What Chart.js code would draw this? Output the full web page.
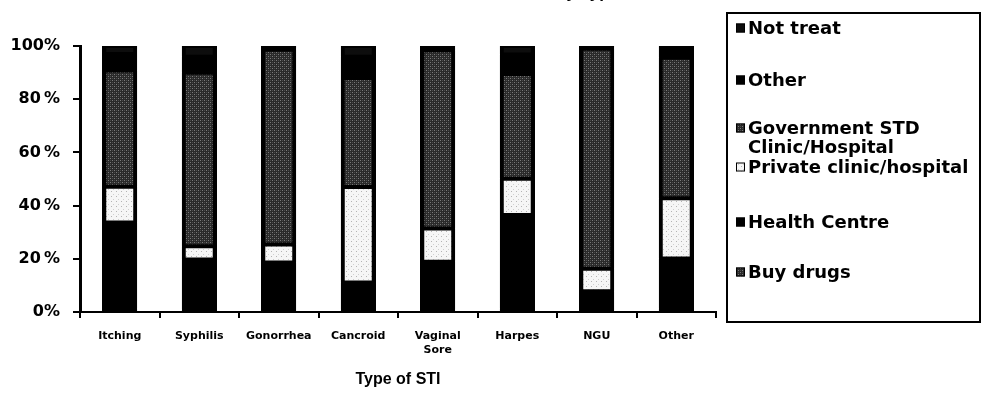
<!DOCTYPE html>
<html>
<head>
<meta charset="utf-8">
<title>Source of treatment by type of STI</title>
<script src="https://cdn.jsdelivr.net/npm/chart.js@4/dist/chart.umd.min.js"></script>
<style>
  html, body { margin: 0; padding: 0; background: #fff; }
  #wrap { width: 981px; height: 397px; overflow: hidden; }
  canvas { display: block; }
</style>
</head>
<body>
<div id="wrap"><canvas id="chart" width="981" height="397"></canvas></div>
<script>
// Categories (type of STI) along the x axis
const categories = ['Itching', 'Syphilis', 'Gonorrhea', 'Cancroid', ['Vaginal', 'Sore'], 'Harpes', 'NGU', 'Other'];

// Share of cases (%) by place of treatment, stacked bottom to top
const buyDrugs      = [1.2, 0.9, 1.1, 0.8, 1.0, 1.4, 0.6, 1.2];
const healthCentre  = [32.4, 18.8, 17.5, 10.3, 17.9, 35.1, 7.2, 18.9];
const privateClinic = [13.5, 5.0, 6.8, 35.9, 12.5, 13.6, 8.5, 22.7];
const govtClinic    = [43.7, 65.2, 73.2, 41.0, 67.0, 39.4, 82.7, 52.8];
const otherPlace    = [6.2, 6.1, 0.6, 8.0, 0.9, 7.3, 0.5, 2.9];
const notTreat      = [3.0, 4.0, 0.8, 4.0, 0.7, 3.2, 0.5, 1.5];

const seriesNames = ['Buy drugs', 'Health Centre', 'Private clinic/hospital',
                     'Government STD\nClinic/Hospital', 'Other', 'Not treat'];
const yTickLabels = ['0%', '20\u2009%', '40\u2009%', '60\u2009%', '80\u2009%', '100%'];
const chartTitle = 'Source of Treatment of STI by Type of STI';
const xAxisTitle = 'Type of STI';

// Halftone-like fills
function makePattern(size, base, dots) {
  const c = document.createElement('canvas');
  c.width = size; c.height = size;
  const g = c.getContext('2d');
  g.fillStyle = base;
  g.fillRect(0, 0, size, size);
  dots.forEach(([x, y, col]) => { g.fillStyle = col; g.fillRect(x, y, 1, 1); });
  return g.createPattern(c, 'repeat');
}
const darkDots = makePattern(4, '#2a2a2a', [[0, 0, '#7a7a7a'], [2, 2, '#7a7a7a'], [2, 0, '#4a4a4a'], [0, 2, '#4a4a4a']]);
const lightDots = makePattern(5, '#f6f6f6', [[1, 1, '#b4b4b4'], [3, 4, '#d0d0d0']]);

const fills = [darkDots, '#000000', lightDots, darkDots, '#000000', '#0d0d0d'];
const values = [buyDrugs, healthCentre, privateClinic, govtClinic, otherPlace, notTreat];

const datasets = values.map((data, i) => ({
  label: seriesNames[i],
  data: data,
  backgroundColor: fills[i],
  borderColor: '#000000',
  borderWidth: { top: 2, bottom: 2, left: 4, right: 4 },
  borderSkipped: false,
  barPercentage: 0.44,
  categoryPercentage: 1.0
}));

// Solid black column under each stack so segment seams stay dark
const stackBacking = {
  id: 'stackBacking',
  beforeDatasetsDraw(chart) {
    const first = chart.getDatasetMeta(0).data;
    const last = chart.getDatasetMeta(chart.data.datasets.length - 1).data;
    const ctx = chart.ctx;
    ctx.save();
    ctx.fillStyle = '#000';
    first.forEach((bar, i) => {
      const top = last[i].y;
      const bottom = bar.base;
      ctx.fillRect(Math.round(bar.x - bar.width / 2), Math.round(top), Math.round(bar.width), Math.round(bottom - top));
    });
    ctx.restore();
  }
};

// Title drawn high so only its lower edge sits inside the frame
const titlePlugin = {
  id: 'topTitle',
  afterDraw(chart) {
    const ctx = chart.ctx;
    ctx.save();
    ctx.font = 'bold 17px "Liberation Sans", Arial, sans-serif';
    ctx.fillStyle = '#000';
    ctx.textAlign = 'center';
    ctx.textBaseline = 'alphabetic';
    ctx.fillText(chartTitle, 503, -2);
    ctx.restore();
  }
};

// Boxed legend on the right, listed top series first
const boxLegend = {
  id: 'boxLegend',
  afterDraw(chart, args, opts) {
    const ctx = chart.ctx;
    const ds = chart.data.datasets;
    ctx.save();
    ctx.strokeStyle = '#000';
    ctx.lineWidth = 2;
    ctx.strokeRect(opts.x, opts.y, opts.w, opts.h);
    ctx.font = 'bold 18px "DejaVu Sans", sans-serif';
    ctx.textBaseline = 'middle';
    ctx.textAlign = 'left';
    const order = ds.map((d, i) => i).reverse();
    order.forEach((idx, k) => {
      const cy = opts.itemY[k];
      const sx = opts.x + 9, s = 9;
      ctx.fillStyle = ds[idx].backgroundColor;
      ctx.fillRect(sx, cy - s / 2, s, s);
      ctx.lineWidth = 1;
      ctx.strokeRect(sx + 0.5, cy - s / 2 + 0.5, s - 1, s - 1);
      ctx.fillStyle = '#000';
      String(ds[idx].label).split('\n').forEach((line, j) => {
        ctx.fillText(line, sx + s + 3, cy + 1 + j * opts.lineH);
      });
    });
    ctx.restore();
  }
};

new Chart(document.getElementById('chart'), {
  type: 'bar',
  data: { labels: categories, datasets: datasets },
  plugins: [stackBacking, titlePlugin, boxLegend],
  options: {
    responsive: false,
    animation: false,
    layout: { padding: { left: 0, right: 265, top: 46, bottom: 0 } },
    plugins: {
      legend: { display: false },
      tooltip: { enabled: false },
      title: { display: false },
      boxLegend: { x: 727, y: 13, w: 253, h: 309, itemY: [28, 80, 128, 167, 222, 272], lineH: 19 }
    },
    scales: {
      x: {
        stacked: true,
        afterFit(s) { s.height = 85; },
        grid: { display: true, drawOnChartArea: false, drawTicks: true, tickLength: 6, color: '#000', lineWidth: 2, offset: true },
        border: { display: true, color: '#000', width: 2 },
        ticks: {
          color: '#000',
          padding: 12,
          maxRotation: 0,
          autoSkip: false,
          font: { family: '"DejaVu Sans", sans-serif', size: 11, weight: 'bold', lineHeight: 1.2 }
        },
        title: {
          display: true,
          text: xAxisTitle,
          color: '#000',
          font: { family: '"Liberation Sans", Arial, sans-serif', size: 16, weight: 'bold', lineHeight: 1.2 },
          padding: { top: 0, bottom: 8 }
        }
      },
      y: {
        stacked: true,
        min: 0,
        max: 100,
        afterFit(s) { s.width = 80; },
        grid: { display: true, drawOnChartArea: false, drawTicks: true, tickLength: 7, color: '#000', lineWidth: 2 },
        border: { display: true, color: '#000', width: 3 },
        ticks: {
          stepSize: 20,
          color: '#000',
          padding: 13,
          font: { family: '"DejaVu Sans", sans-serif', size: 16, weight: 'bold' },
          callback: (v) => yTickLabels[Math.round(v / 20)]
        }
      }
    }
  }
});
</script>
</body>
</html>
